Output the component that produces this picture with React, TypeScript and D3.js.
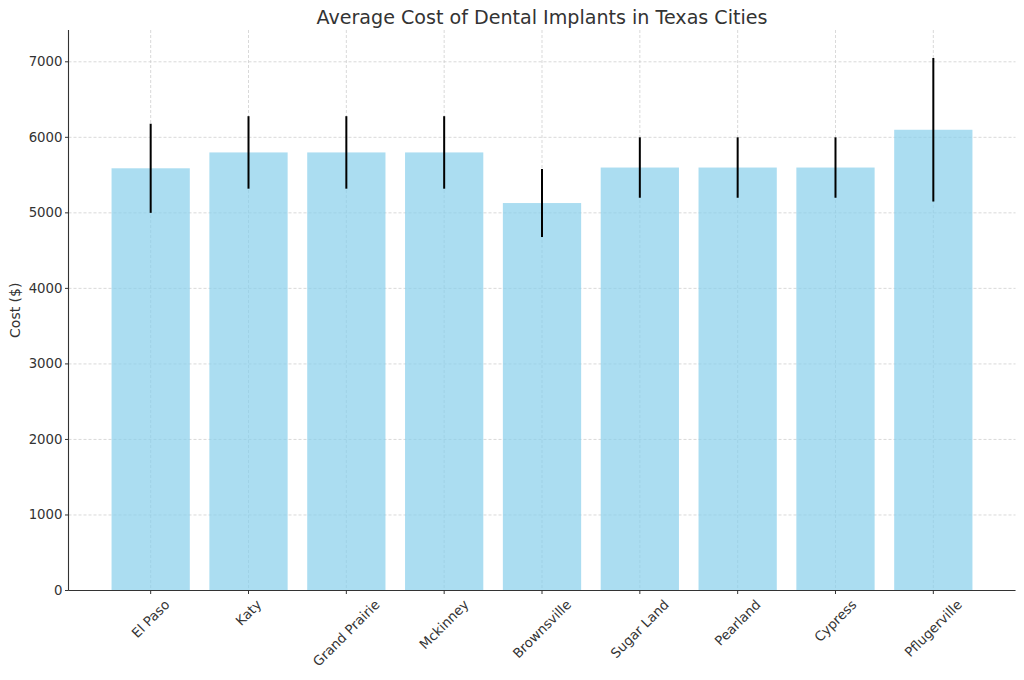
import React, { useEffect, useRef } from "react";
import * as d3 from "d3";

const cities = ["El Paso", "Katy", "Grand Prairie", "Mckinney", "Brownsville", "Sugar Land", "Pearland", "Cypress", "Pflugerville"];
const avgCost = [5590, 5800, 5800, 5800, 5130, 5600, 5600, 5600, 6100];
const costError = [590, 480, 480, 480, 450, 400, 400, 400, 950];
const yTicks = [0, 1000, 2000, 3000, 4000, 5000, 6000, 7000];

const W = 1024;
const H = 680;
const M = { left: 68.5, right: 1015.5, top: 30, bottom: 590.5 };
const FONT = "DejaVu Sans, sans-serif";
const TXT = "#333333";
const TICK_FS = 13.3;

export default function App() {
  const ref = useRef<SVGSVGElement>(null);

  useEffect(() => {
    const svg = d3.select(ref.current);
    svg.selectAll("*").remove();

    const x = d3.scaleBand<string>().domain(cities).range([M.left, M.right]).paddingInner(0.2).paddingOuter(0.44);
    const y = d3.scaleLinear().domain([0, 7421]).range([M.bottom, M.top]);
    const cx = (c: string) => (x(c) as number) + x.bandwidth() / 2;

    // grid
    const g = svg.append("g");
    g.selectAll("line.gy").data(yTicks).join("line")
      .attr("x1", M.left).attr("x2", M.right)
      .attr("y1", (d) => y(d)).attr("y2", (d) => y(d))
      .attr("stroke", "#c8c8c8").attr("stroke-width", 0.7).attr("stroke-dasharray", "3,2");
    g.selectAll("line.gx").data(cities).join("line")
      .attr("x1", (d) => cx(d)).attr("x2", (d) => cx(d))
      .attr("y1", M.top).attr("y2", M.bottom)
      .attr("stroke", "#c8c8c8").attr("stroke-width", 0.7).attr("stroke-dasharray", "3,2");

    // bars
    svg.append("g").selectAll("rect").data(cities).join("rect")
      .attr("x", (d) => x(d) as number)
      .attr("width", x.bandwidth())
      .attr("y", (_d, i) => y(avgCost[i]))
      .attr("height", (_d, i) => M.bottom - y(avgCost[i]))
      .attr("fill", "#87CEEB").attr("fill-opacity", 0.7);

    // error bars
    svg.append("g").selectAll("line").data(cities).join("line")
      .attr("x1", (d) => cx(d)).attr("x2", (d) => cx(d))
      .attr("y1", (_d, i) => y(avgCost[i] + costError[i]))
      .attr("y2", (_d, i) => y(avgCost[i] - costError[i]))
      .attr("stroke", "#000").attr("stroke-width", 2);

    // spines
    svg.append("line").attr("x1", M.left).attr("x2", M.left).attr("y1", M.top).attr("y2", M.bottom)
      .attr("stroke", TXT).attr("stroke-width", 1.1);
    svg.append("line").attr("x1", M.left).attr("x2", M.right).attr("y1", M.bottom).attr("y2", M.bottom)
      .attr("stroke", TXT).attr("stroke-width", 1.1);

    // y ticks
    const yt = svg.append("g");
    yt.selectAll("line").data(yTicks).join("line")
      .attr("x1", M.left - 3.5).attr("x2", M.left)
      .attr("y1", (d) => y(d)).attr("y2", (d) => y(d))
      .attr("stroke", TXT).attr("stroke-width", 1);
    yt.selectAll("text").data(yTicks).join("text")
      .attr("x", M.left - 6).attr("y", (d) => y(d))
      .attr("text-anchor", "end").attr("dominant-baseline", "central")
      .attr("font-family", FONT).attr("font-size", TICK_FS).attr("fill", TXT)
      .text((d) => String(d));

    // x ticks
    const xt = svg.append("g");
    xt.selectAll("line").data(cities).join("line")
      .attr("x1", (d) => cx(d)).attr("x2", (d) => cx(d))
      .attr("y1", M.bottom).attr("y2", M.bottom + 3.5)
      .attr("stroke", TXT).attr("stroke-width", 1);
    const labels = xt.selectAll("text").data(cities).join("text")
      .attr("text-anchor", "middle").attr("dominant-baseline", "central")
      .attr("font-family", FONT).attr("font-size", TICK_FS).attr("fill", TXT)
      .text((d) => d);
    labels.each(function (d) {
      const el = this as SVGTextElement;
      const w = el.getComputedTextLength();
      const h = 15;
      const top = M.bottom + 6.5;
      const cyy = top + (w + h) / (2 * Math.SQRT2);
      d3.select(el).attr("transform", `translate(${cx(d)},${cyy}) rotate(-45)`);
    });

    // y label
    svg.append("text")
      .attr("transform", `translate(15,${(M.top + M.bottom) / 2}) rotate(-90)`)
      .attr("text-anchor", "middle").attr("dominant-baseline", "central")
      .attr("font-family", FONT).attr("font-size", 14).attr("fill", TXT)
      .text("Cost ($)");

    // title
    svg.append("text")
      .attr("x", (M.left + M.right) / 2).attr("y", 24)
      .attr("text-anchor", "middle")
      .attr("font-family", FONT).attr("font-size", 19.1).attr("fill", TXT)
      .text("Average Cost of Dental Implants in Texas Cities");
  }, []);

  return (
    <svg ref={ref} width={W} height={H} style={{ position: "absolute", left: 0, top: 0, background: "#fff" }} />
  );
}
